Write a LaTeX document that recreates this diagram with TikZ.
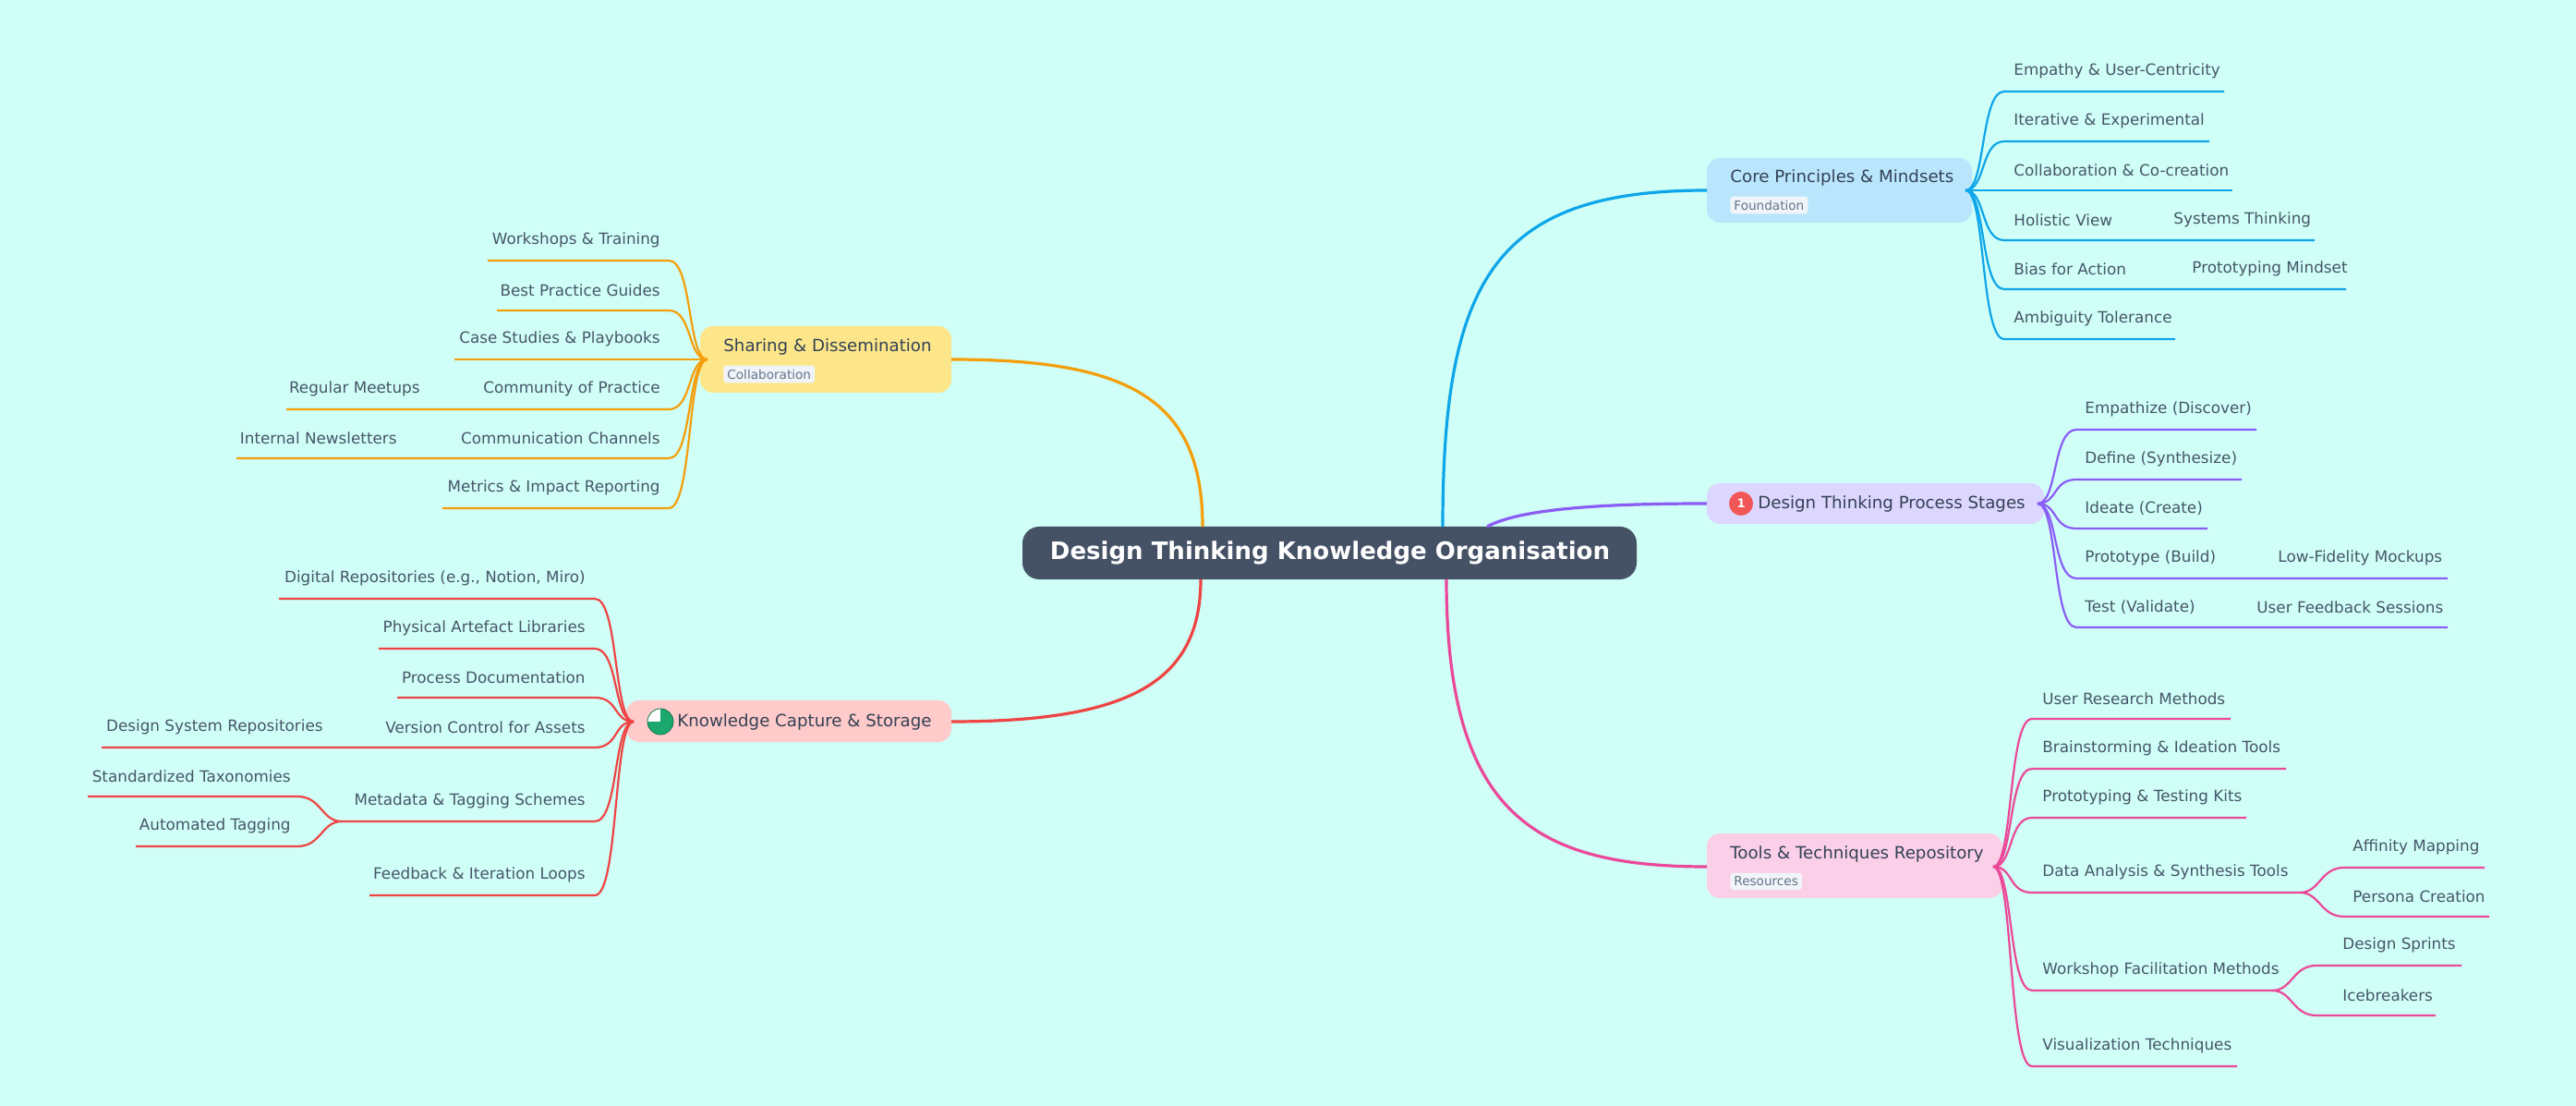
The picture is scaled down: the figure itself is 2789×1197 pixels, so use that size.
\documentclass[tikz,border=0pt]{standalone}
\usepackage{fontspec}
\setmainfont{DejaVu Sans}
\definecolor{bg}{RGB}{207,255,247}
\definecolor{txt}{RGB}{51,65,85}
\definecolor{ltxt}{RGB}{71,85,105}
\definecolor{cblue}{RGB}{14,165,233}
\definecolor{cpur}{RGB}{139,92,246}
\definecolor{cpink}{RGB}{236,72,153}
\definecolor{corg}{RGB}{245,158,11}
\definecolor{cred}{RGB}{239,68,68}
\definecolor{fblue}{RGB}{186,230,253}
\definecolor{fpur}{RGB}{221,214,254}
\definecolor{fpink}{RGB}{251,207,232}
\definecolor{forg}{RGB}{253,230,138}
\definecolor{fred}{RGB}{254,202,202}
\definecolor{ctr}{RGB}{69,82,102}
\definecolor{tagf}{RGB}{241,245,249}
\definecolor{tagt}{RGB}{100,116,139}
\definecolor{pie}{RGB}{26,168,110}
\tikzset{
 box/.style={rounded corners=7pt,inner sep=0pt,draw=none},
 lbl/.style={text=txt,font=\fontsize{9.1}{11}\selectfont,inner sep=0pt},
 leaf/.style={text=ltxt,font=\fontsize{8.4}{10}\selectfont,inner sep=0pt},
 tag/.style={fill=tagf,text=tagt,font=\fontsize{6.8}{8}\selectfont,rounded corners=1.5pt,inner xsep=2pt,inner ysep=2pt},
 lw/.style={line width=1.1pt},
 mw/.style={line width=1.6pt},
}
\newcommand{\lfR}[7]{\draw[#1,lw] (#2) .. controls +(22,0) and +(-26,0) .. (#3,#4) -- (#5,#4);
 \node[leaf,anchor=west] at (#6,#4-22) {#7};}
\newcommand{\lfL}[7]{\draw[#1,lw] (#2) .. controls +(-22,0) and +(26,0) .. (#3,#4) -- (#5,#4);
 \node[leaf,anchor=east] at (#6,#4-22) {#7};}
\begin{document}
\begin{tikzpicture}[x=0.5pt,y=-0.5pt]
\fill[bg] (0,0) rectangle (2789,1197);
\useasboundingbox (0,0) rectangle (2789,1197);
% center
\fill[ctr,rounded corners=9pt] (1107,570) rectangle (1772,627);
\node[text=white,font=\bfseries\fontsize{13}{15}\selectfont] (center) at (1440,598.5) {Design Thinking Knowledge Organisation};
% branch boxes
\fill[fblue,box] (1848,171) rectangle (2135,241);
\node[lbl,anchor=west] (core) at (1873,192) {Core Principles \& Mindsets};
\node[tag,anchor=west] (coretag) at (1873,222) {Foundation};
\fill[fpur,box] (1848,523) rectangle (2213,567);
\fill[cred!90!white] (1885,545) circle (13);
\node[text=white,font=\bfseries\fontsize{6.5}{7}\selectfont] (one) at (1885,545) {1};
\node[lbl,anchor=west] (proc) at (1903,545) {Design Thinking Process Stages};
\fill[fpink,box] (1848,902) rectangle (2168,972);
\node[lbl,anchor=west] (tools) at (1873,924) {Tools \& Techniques Repository};
\node[tag,anchor=west] (tooltag) at (1873,954) {Resources};
\fill[forg,box] (758,353) rectangle (1030,425);
\node[lbl,anchor=west] (share) at (783,375) {Sharing \& Dissemination};
\node[tag,anchor=west] (sharetag) at (783,405) {Collaboration};
\fill[fred,box] (678,758) rectangle (1030,803);
\fill[pie] (715,781) circle (14);
\begin{scope}
\clip (715,781) circle (14);
\fill[white] (700,766) rectangle (715,781);
\end{scope}
\draw[pie!70!black,line width=0.4pt] (715,781) circle (14);
\node[lbl,anchor=west] (know) at (733,781) {Knowledge Capture \& Storage};
% main edges
\coordinate (cA) at (1562,570); \coordinate (cB) at (1610,570); \coordinate (cC) at (1566,627);
\coordinate (cD) at (1302,570); \coordinate (cE) at (1300,627);
\coordinate (pA) at (1848,206); \coordinate (pB) at (1848,545); \coordinate (pC) at (1848,938);
\coordinate (pD) at (1030,389); \coordinate (pE) at (1030,781);
\draw[cblue,mw] (cA) .. controls (1562,300) and (1620,206) .. (pA);
\draw[cpur,mw] (cB) .. controls (1650,548) and (1760,545) .. (pB);
\draw[cpink,mw] (cC) .. controls (1566,880) and (1660,938) .. (pC);
\draw[corg,mw] (cD) .. controls (1302,430) and (1220,389) .. (pD);
\draw[cred,mw] (cE) .. controls (1300,740) and (1220,781) .. (pE);
% core leaves
\coordinate (aC) at (2128,206);
\lfR{cblue}{aC}{2170}{99}{2408}{2180}{Empathy \& User-Centricity}
\lfR{cblue}{aC}{2170}{153}{2392}{2180}{Iterative \& Experimental}
\lfR{cblue}{aC}{2170}{206}{2417}{2180}{Collaboration \& Co-creation}
\lfR{cblue}{aC}{2170}{260}{2506}{2180}{Holistic View}
\node[leaf,anchor=west] (sys) at (2353,238) {Systems Thinking};
\lfR{cblue}{aC}{2170}{313}{2540}{2180}{Bias for Action}
\node[leaf,anchor=west] (protm) at (2373,291) {Prototyping Mindset};
\lfR{cblue}{aC}{2170}{367}{2355}{2180}{Ambiguity Tolerance}
% process leaves
\coordinate (aP) at (2206,545);
\lfR{cpur}{aP}{2248}{465}{2443}{2257}{Empathize (Discover)}
\lfR{cpur}{aP}{2248}{519}{2427}{2257}{Define (Synthesize)}
\lfR{cpur}{aP}{2248}{572}{2390}{2257}{Ideate (Create)}
\lfR{cpur}{aP}{2248}{626}{2650}{2257}{Prototype (Build)}
\node[leaf,anchor=west] (lfm) at (2466,604) {Low-Fidelity Mockups};
\lfR{cpur}{aP}{2248}{679}{2650}{2257}{Test (Validate)}
\node[leaf,anchor=west] (ufs) at (2443,657) {User Feedback Sessions};
% tools leaves
\coordinate (aT) at (2158,938);
\lfR{cpink}{aT}{2200}{778}{2415}{2211}{User Research Methods}
\lfR{cpink}{aT}{2200}{832}{2475}{2211}{Brainstorming \& Ideation Tools}
\lfR{cpink}{aT}{2200}{885}{2432}{2211}{Prototyping \& Testing Kits}
\lfR{cpink}{aT}{2200}{966}{2490}{2211}{Data Analysis \& Synthesis Tools}
\coordinate (aDA) at (2490,966);
\lfR{cpink}{aDA}{2538}{939}{2690}{2547}{Affinity Mapping}
\lfR{cpink}{aDA}{2538}{992}{2695}{2547}{Persona Creation}
\lfR{cpink}{aT}{2200}{1072}{2460}{2211}{Workshop Facilitation Methods}
\coordinate (aWF) at (2460,1072);
\lfR{cpink}{aWF}{2508}{1045}{2665}{2536}{Design Sprints}
\lfR{cpink}{aWF}{2508}{1099}{2637}{2536}{Icebreakers}
\lfR{cpink}{aT}{2200}{1154}{2422}{2211}{Visualization Techniques}
% sharing leaves
\coordinate (aS) at (766,389);
\lfL{corg}{aS}{724}{282}{528}{715}{Workshops \& Training}
\lfL{corg}{aS}{724}{336}{538}{715}{Best Practice Guides}
\lfL{corg}{aS}{724}{389}{492}{715}{Case Studies \& Playbooks}
\lfL{corg}{aS}{724}{443}{310}{715}{Community of Practice}
\node[leaf,anchor=east] (rm) at (455,421) {Regular Meetups};
\lfL{corg}{aS}{724}{496}{256}{715}{Communication Channels}
\node[leaf,anchor=east] (inl) at (430,474) {Internal Newsletters};
\lfL{corg}{aS}{724}{550}{479}{715}{Metrics \& Impact Reporting}
% knowledge leaves
\coordinate (aK) at (686,781);
\lfL{cred}{aK}{644}{648}{302}{634}{Digital Repositories (e.g., Notion, Miro)}
\lfL{cred}{aK}{644}{702}{410}{634}{Physical Artefact Libraries}
\lfL{cred}{aK}{644}{755}{430}{634}{Process Documentation}
\lfL{cred}{aK}{644}{809}{110}{634}{Version Control for Assets}
\node[leaf,anchor=east] (dsr) at (350,787) {Design System Repositories};
\lfL{cred}{aK}{644}{889}{370}{634}{Metadata \& Tagging Schemes}
\coordinate (aMT) at (370,889);
\lfL{cred}{aMT}{322}{862}{95}{315}{Standardized Taxonomies}
\lfL{cred}{aMT}{322}{916}{147}{315}{Automated Tagging}
\lfL{cred}{aK}{644}{969}{400}{634}{Feedback \& Iteration Loops}
\end{tikzpicture}
\end{document}
